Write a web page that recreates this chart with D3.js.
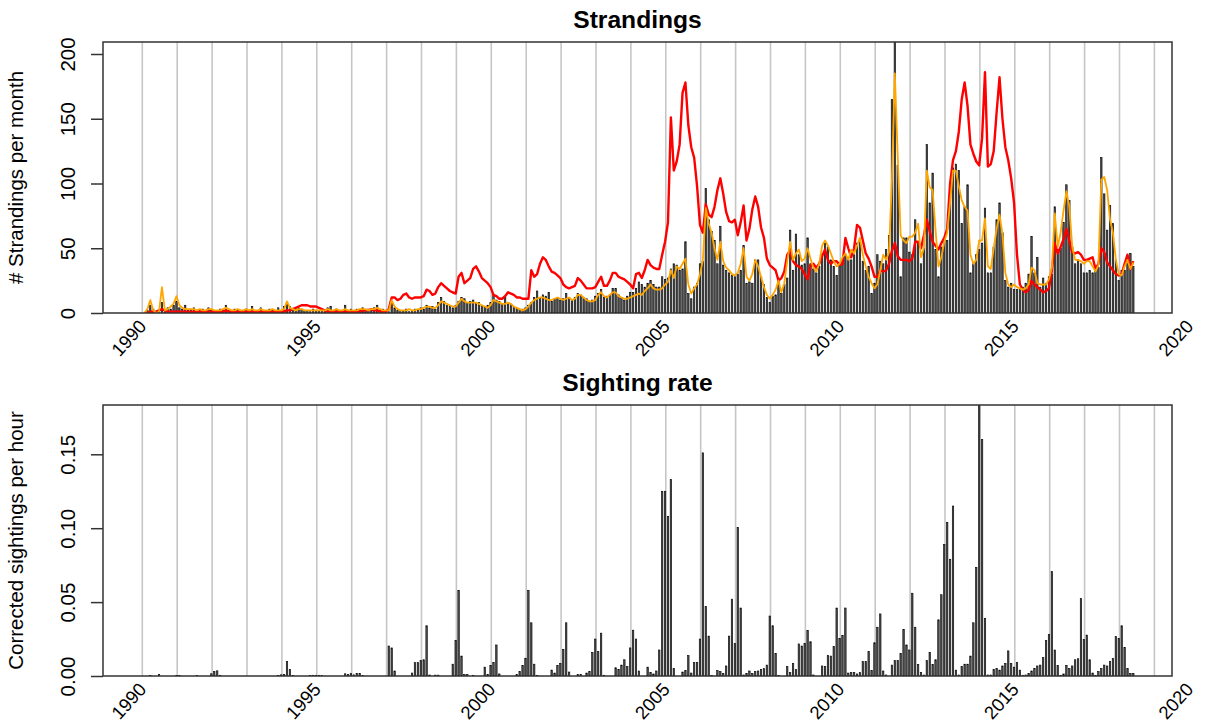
<!DOCTYPE html>
<html>
<head>
<meta charset="utf-8">
<script src="https://cdn.jsdelivr.net/npm/d3@7"></script>
<style>
  body { margin: 0; background: #fff; }
  svg { display: block; }
  text { font-family: "Liberation Sans", Arial, Helvetica, sans-serif; fill: #000; }
</style>
</head>
<body>
<svg id="chart" width="1206" height="727"></svg>
<script>
// Monthly series, January 1990 - May 2018 (one row per year).
const firstYear = 1990;

// Observed strandings per month (bars)
const strandings = [
  0, 2, 6, 3, 1, 2, 8, 1, 4, 3, 6, 9,            // 1990
  4, 3, 6, 2, 3, 4, 1, 2, 3, 2, 4, 2,            // 1991
  1, 2, 3, 2, 6, 2, 1, 3, 2, 1, 2, 3,            // 1992
  2, 5, 1, 2, 4, 1, 2, 3, 2, 1, 4, 2,            // 1993
  5, 8, 5, 3, 3, 4, 3, 2, 2, 1, 3, 2,            // 1994
  2, 3, 2, 4, 5, 2, 3, 1, 2, 6, 2, 3,            // 1995
  1, 3, 2, 4, 2, 3, 2, 4, 6, 2, 3, 1,            // 1996
  1, 8, 4, 2, 1, 2, 3, 1, 2, 3, 2, 4,            // 1997
  3, 6, 4, 5, 3, 8, 12, 9, 6, 5, 4, 6,           // 1998
  9, 12, 11, 8, 9, 10, 8, 8, 6, 5, 6, 8,         // 1999
  14, 10, 9, 7, 12, 8, 7, 5, 4, 3, 3, 4,         // 2000
  6, 8, 12, 17, 12, 14, 13, 16, 9, 11, 12, 10,   // 2001
  11, 15, 12, 10, 12, 15, 14, 12, 11, 9, 10, 13, // 2002
  15, 18, 12, 13, 14, 19, 19, 14, 12, 10, 13, 16,// 2003
  16, 19, 24, 22, 20, 23, 25, 22, 20, 20, 28, 26,// 2004
  27, 34, 38, 37, 33, 34, 55, 15, 11, 20, 23, 38,// 2005
  40, 96, 72, 63, 56, 38, 67, 37, 33, 31, 29, 28,// 2006
  30, 33, 52, 23, 24, 23, 41, 41, 28, 22, 12, 8, // 2007
  13, 14, 27, 15, 22, 27, 64, 33, 61, 45, 37, 38,// 2008
  58, 38, 34, 31, 36, 45, 54, 51, 41, 36, 29, 38,// 2009
  41, 45, 41, 41, 45, 54, 55, 40, 33, 36, 15, 23,// 2010
  45, 40, 38, 49, 60, 165, 240, 114, 28, 58, 58, 47, // 2011
  45, 72, 54, 38, 50, 130, 85, 108, 49, 28, 51, 56,  // 2012
  56, 95, 112, 115, 110, 69, 82, 99, 31, 38, 45, 49, // 2013
  54, 81, 31, 31, 51, 72, 85, 62, 25, 20, 23, 18,    // 2014
  18, 18, 20, 23, 30, 59, 31, 43, 20, 27, 23, 28,    // 2015
  30, 82, 49, 50, 70, 99, 87, 51, 38, 41, 38, 31,    // 2016
  31, 33, 31, 33, 35, 120, 92, 64, 83, 69, 41, 25,   // 2017
  33, 33, 43, 46, 36                                 // 2018
];

// Fitted strandings (orange line)
const fitted = [
  0, 3, 10, 2, 0, 1, 20, 2, 3, 5, 7, 13,
  6, 4, 3, 3, 3, 3, 2, 3, 2, 2, 3, 3,
  2, 2, 2, 3, 4, 3, 2, 2, 3, 2, 2, 3,
  2, 3, 2, 2, 3, 2, 2, 2, 3, 2, 2, 2,
  3, 9, 4, 3, 2, 3, 3, 2, 2, 2, 2, 2,
  2, 2, 2, 3, 2, 2, 3, 2, 2, 3, 2, 2,
  2, 2, 3, 3, 3, 2, 3, 3, 4, 3, 2, 2,
  2, 10, 5, 3, 2, 2, 2, 3, 2, 2, 3, 3,
  4, 5, 5, 4, 4, 6, 9, 8, 7, 6, 5, 5,
  8, 11, 9, 8, 8, 8, 8, 7, 6, 5, 4, 6,
  10, 9, 8, 7, 7, 8, 7, 5, 4, 3, 2, 3,
  5, 8, 10, 11, 12, 12, 11, 10, 10, 11, 12, 11,
  10, 11, 12, 10, 11, 14, 14, 12, 10, 9, 9, 10,
  14, 16, 13, 12, 14, 16, 16, 13, 12, 11, 11, 12,
  13, 14, 15, 14, 17, 19, 22, 19, 18, 18, 19, 22,
  24, 33, 27, 36, 34, 38, 42, 22, 15, 19, 22, 30,
  41, 81, 69, 62, 50, 41, 55, 40, 35, 33, 30, 29,
  31, 38, 50, 28, 25, 30, 41, 36, 28, 20, 14, 11,
  14, 18, 25, 16, 23, 40, 55, 41, 46, 49, 40, 42,
  50, 42, 35, 32, 38, 52, 56, 52, 46, 40, 36, 38,
  43, 46, 41, 49, 46, 52, 58, 45, 36, 28, 23, 19,
  22, 33, 45, 41, 47, 103, 185, 121, 60, 56, 54, 59,
  59, 62, 69, 43, 50, 110, 97, 95, 64, 36, 43, 55,
  62, 85, 110, 110, 98, 87, 82, 79, 45, 38, 41, 56,
  56, 73, 36, 34, 50, 65, 76, 61, 31, 22, 20, 22,
  20, 19, 18, 19, 22, 35, 33, 23, 22, 22, 22, 26,
  35, 77, 51, 62, 79, 94, 82, 51, 41, 41, 40, 38,
  40, 40, 36, 32, 37, 103, 105, 95, 72, 62, 41, 30,
  29, 36, 41, 34, 39
];

// Expected strandings (red line)
const expected = [
  0, 0, 1, 1, 1, 2, 3, 2, 1, 1, 1, 1,
  1, 1, 1, 1, 1, 1, 1, 1, 1, 1, 1, 1,
  1, 1, 1, 1, 2, 1, 1, 1, 1, 1, 1, 1,
  1, 1, 1, 1, 1, 1, 1, 1, 1, 1, 1, 1,
  1, 2, 2, 3, 4, 5, 6, 6, 6, 5, 5, 5,
  4, 3, 2, 1, 1, 1, 1, 1, 1, 1, 1, 1,
  1, 1, 1, 2, 2, 2, 3, 2, 2, 1, 1, 1,
  3, 12, 12, 10, 11, 14, 15, 12, 11, 12, 12, 12,
  13, 18, 17, 14, 15, 20, 23, 21, 19, 17, 16, 15,
  28, 31, 23, 25, 27, 34, 36, 32, 27, 25, 23, 20,
  14, 13, 11, 11, 13, 16, 15, 14, 12, 12, 11, 11,
  11, 33, 28, 30, 38, 43, 41, 36, 32, 31, 29, 27,
  22, 20, 19, 20, 21, 27, 25, 22, 19, 19, 19, 20,
  24, 28, 21, 21, 25, 31, 31, 28, 27, 26, 24, 22,
  19, 30, 31, 27, 33, 41, 37, 35, 34, 34, 45, 55,
  70, 151, 110, 117, 130, 170, 178, 145, 128, 120, 98, 68,
  62, 84, 76, 74, 82, 95, 104, 92, 78, 71, 70, 72,
  60, 70, 83, 56, 65, 80, 90, 82, 66, 58, 42, 37,
  35, 33, 25, 27, 32, 45, 48, 40, 37, 36, 34, 30,
  26, 37, 38, 35, 38, 44, 49, 41, 38, 40, 40, 37,
  38, 58, 50, 43, 50, 68, 66, 56, 46, 42, 36, 28,
  28, 33, 32, 33, 38, 48, 54, 44, 41, 41, 41, 40,
  42, 55, 55, 50, 60, 72, 63, 55, 52, 49, 54, 58,
  65, 100, 118, 125, 140, 165, 178, 160, 130, 123, 117, 114,
  135, 186, 113, 115, 125, 155, 182, 150, 128, 118, 104, 85,
  45, 22, 18, 16, 18, 25, 22, 20, 18, 16, 17, 19,
  33, 54, 46, 51, 57, 65, 56, 47, 46, 47, 45, 41,
  41, 42, 43, 34, 38, 50, 47, 39, 36, 33, 30, 29,
  30, 38, 45, 34, 40
];

// Corrected sightings per hour (bars, lower panel)
const sightings = [
  0, 0, 0.0003, 0, 0, 0.001, 0, 0, 0, 0, 0, 0.0003,
  0.0004, 0, 0, 0, 0, 0, 0.0003, 0, 0, 0, 0, 0.0015,
  0.003, 0.0035, 0.0005, 0, 0, 0, 0, 0, 0, 0, 0, 0,
  0, 0, 0, 0, 0, 0, 0, 0, 0, 0, 0.0003, 0.0008,
  0.001, 0.0097, 0.0045, 0.0003, 0, 0, 0, 0, 0, 0.0003, 0.0005, 0.0005,
  0.0005, 0.0004, 0, 0, 0, 0, 0, 0, 0, 0.0015, 0.001, 0.0018,
  0.0008, 0.0018, 0.0018, 0.0004, 0, 0, 0, 0, 0, 0, 0, 0,
  0.0203, 0.019, 0.0034, 0, 0, 0, 0, 0, 0.002, 0.009, 0.009, 0.0104,
  0.011, 0.034, 0.0007, 0, 0.0006, 0.0006, 0, 0, 0, 0, 0.008, 0.024,
  0.058, 0.0135, 0.001, 0.001, 0, 0.0005, 0, 0, 0, 0.006, 0.001, 0.0072,
  0.009, 0.021, 0.0014, 0, 0, 0, 0, 0, 0.001, 0.003, 0.0072, 0.012,
  0.058, 0.036, 0.008, 0.0005, 0, 0, 0, 0, 0.004, 0.002, 0.007, 0.0086,
  0.018, 0.036, 0.0027, 0, 0, 0.001, 0.001, 0, 0.002, 0.003, 0.016, 0.025,
  0.0165, 0.029, 0.0005, 0, 0, 0, 0.0056, 0.0045, 0.0074, 0.011, 0.0063, 0.019,
  0.031, 0.025, 0.0034, 0, 0, 0.006, 0.0025, 0.0014, 0.0034, 0.0176, 0.125, 0.125,
  0.108, 0.133, 0.005, 0, 0, 0.0027, 0.0036, 0.0138, 0.002, 0.0092, 0.0092, 0.025,
  0.151, 0.047, 0.027, 0.0005, 0, 0.0036, 0.003, 0.0018, 0.0068, 0.027, 0.052, 0.022,
  0.1006, 0.046, 0.0007, 0.0018, 0.0034, 0.0018, 0.003, 0.0034, 0.0045, 0.005, 0.0074, 0.0406,
  0.034, 0.0153, 0.0005, 0, 0, 0.0063, 0.0023, 0.0086, 0.0045, 0.0217, 0.0203, 0.022,
  0.0307, 0.0232, 0.0007, 0, 0, 0.0068, 0.0063, 0.014, 0.0135, 0.020, 0.046, 0.0255,
  0.0275, 0.046, 0.002, 0.0023, 0.0023, 0.0014, 0.0023, 0.0097, 0.0097, 0.0165, 0.0036, 0.0225,
  0.033, 0.042, 0.0034, 0.0007, 0, 0.0074, 0.0104, 0.0104, 0.0153, 0.0316, 0.021, 0.0176,
  0.056, 0.033, 0.0079, 0.0023, 0.0007, 0.0104, 0.016, 0.0079, 0.011, 0.038, 0.055, 0.089,
  0.104, 0.079, 0.115, 0.004, 0.0007, 0.0063, 0.008, 0.008, 0.0135, 0.036, 0.0735, 0.21,
  0.160, 0.039, 0.0007, 0.0007, 0.0045, 0.005, 0.004, 0.0068, 0.0086, 0.017, 0.0086, 0.006,
  0.009, 0.004, 0.0005, 0.0007, 0.0018, 0.0034, 0.0052, 0.0068, 0.0074, 0.0124, 0.024, 0.028,
  0.0706, 0.0176, 0.0072, 0.0005, 0.0014, 0.0072, 0.005, 0.0068, 0.011, 0.0117, 0.0525, 0.0248,
  0.0277, 0.011, 0.002, 0.0005, 0.003, 0.005, 0.0074, 0.0068, 0.0097, 0.012, 0.0266, 0.0255,
  0.034, 0.0194, 0.005, 0.0018, 0.0018
];

const strandTicks = [0, 50, 100, 150, 200];
const sightTicks = [0, 0.05, 0.10, 0.15];
const yearLabels = [1990, 1995, 2000, 2005, 2010, 2015, 2020];
const gridYears = d3.range(1990, 2020);

// Decimal time for month index i
const monthTime = i => firstYear + Math.floor(i / 12) + ((i % 12) + 0.75) / 12;

const svg = d3.select("#chart");
const plotLeft = 103, plotRight = 1172;

const x = d3.scaleLinear().domain([1990, 2020]).range([142.3, 1189.3]);
const monthWidth = x(1990 + 1 / 12) - x(1990);

function panel(opts) {
  const g = svg.append("g");
  const y = opts.y;
  const clipId = opts.id + "-clip";
  svg.append("defs").append("clipPath").attr("id", clipId)
    .append("rect")
    .attr("x", plotLeft).attr("y", opts.top)
    .attr("width", plotRight - plotLeft).attr("height", opts.bottom - opts.top);

  const inner = g.append("g").attr("clip-path", `url(#${clipId})`);

  // yearly grid
  inner.append("g").selectAll("line").data(gridYears).join("line")
    .attr("x1", d => x(d)).attr("x2", d => x(d))
    .attr("y1", opts.top).attr("y2", opts.bottom)
    .attr("stroke", "#c6c6c6").attr("stroke-width", 1.6);

  // monthly bars
  const bw = monthWidth * 0.5;
  inner.append("g").selectAll("rect").data(opts.bars).join("rect")
    .attr("x", (d, i) => x(monthTime(i)) - bw / 2)
    .attr("width", bw)
    .attr("y", d => Math.min(y(d), y(0)))
    .attr("height", d => Math.abs(y(0) - y(d)))
    .attr("fill", "#505050")
    .attr("stroke", "#000")
    .attr("stroke-width", 0.6);

  (opts.lines || []).forEach(l => {
    const line = d3.line().x((d, i) => x(monthTime(i))).y(d => y(d));
    inner.append("path").datum(l.values)
      .attr("d", line)
      .attr("fill", "none")
      .attr("stroke", l.color)
      .attr("stroke-width", l.width)
      .attr("stroke-linejoin", "round");
  });

  // box
  g.append("rect")
    .attr("x", plotLeft).attr("y", opts.top)
    .attr("width", plotRight - plotLeft).attr("height", opts.bottom - opts.top)
    .attr("fill", "none").attr("stroke", "#333").attr("stroke-width", 1.5);

  // y axis
  const ax = g.append("g").attr("transform", `translate(${plotLeft},0)`)
    .call(d3.axisLeft(y).tickValues(opts.ticks).tickSize(12).tickFormat(opts.format));
  ax.select(".domain").remove();
  ax.selectAll(".tick line").attr("stroke", "#333").attr("stroke-width", 1.5);
  ax.selectAll(".tick text")
    .attr("x", null).attr("dy", null)
    .attr("text-anchor", "middle")
    .attr("transform", "translate(-28,0) rotate(-90)")
    .style("font-size", "20.5px")
    .style("font-family", "'Liberation Sans', Arial, sans-serif")
    .attr("fill", "#000");

  // y title
  g.append("text")
    .attr("transform", `translate(23,${(opts.top + opts.bottom) / 2}) rotate(-90)`)
    .attr("text-anchor", "middle")
    .style("font-size", "20.5px")
    .text(opts.ylabel);

  // title
  g.append("text")
    .attr("x", (plotLeft + plotRight) / 2).attr("y", opts.top - 14)
    .attr("text-anchor", "middle")
    .style("font-size", "24.6px").style("font-weight", "bold")
    .text(opts.title);

  // year labels
  g.append("g").selectAll("text").data(yearLabels).join("text")
    .attr("transform", d => `translate(${x(d) + 5},${opts.bottom + 14}) rotate(-48)`)
    .attr("text-anchor", "end")
    .style("font-size", "18.5px")
    .text(d => d);
}

panel({
  id: "strand", top: 42, bottom: 313,
  y: d3.scaleLinear().domain([0, 200]).range([313, 54]),
  bars: strandings,
  lines: [
    { values: expected, color: "#ff0000", width: 2.4 },
    { values: fitted, color: "#ffa500", width: 1.8 }
  ],
  ticks: strandTicks, format: d3.format("d"),
  ylabel: "# Strandings per month", title: "Strandings"
});

panel({
  id: "sight", top: 405, bottom: 676,
  y: d3.scaleLinear().domain([0, 0.15]).range([676, 454.3]),
  bars: sightings,
  lines: [],
  ticks: sightTicks, format: d3.format(".2f"),
  ylabel: "Corrected sightings per hour", title: "Sighting rate"
});
</script>
</body>
</html>
